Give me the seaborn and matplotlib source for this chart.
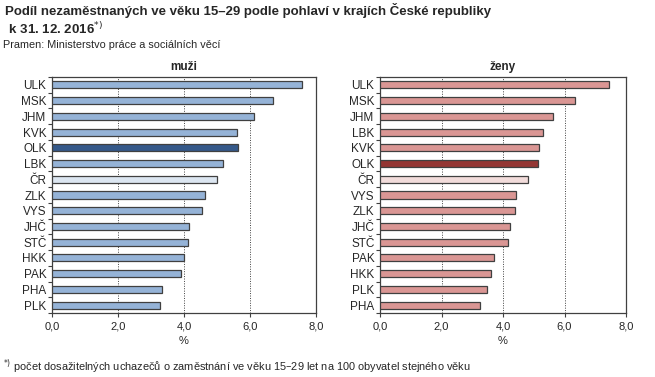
import seaborn as sns
import matplotlib.pyplot as plt
import pandas as pd

sns.set_theme(style='white')
plt.rcParams['font.family'] = ['Liberation Sans', 'DejaVu Sans']

# muzi
kraje_m = ["ULK", "MSK", "JHM", "KVK", "OLK", "LBK", "ČR", "ZLK", "VYS", "JHČ", "STČ", "HKK", "PAK", "PHA", "PLK"]
hodnoty_m = [7.58, 6.71, 6.13, 5.61, 5.63, 5.19, 5.01, 4.64, 4.55, 4.16, 4.11, 4.01, 3.91, 3.34, 3.28]
# zeny
kraje_z = ["ULK", "MSK", "JHM", "LBK", "KVK", "OLK", "ČR", "VYS", "ZLK", "JHČ", "STČ", "PAK", "HKK", "PLK", "PHA"]
hodnoty_z = [7.46, 6.35, 5.62, 5.31, 5.18, 5.14, 4.82, 4.43, 4.40, 4.23, 4.17, 3.71, 3.62, 3.49, 3.26]

def barvy(kraje, zakl, olk, cr):
    return [olk if k == "OLK" else cr if k == "ČR" else zakl for k in kraje]

fig = plt.figure(figsize=(6.55, 3.77), dpi=100)
ax1 = fig.add_axes([52/655, 1-313/377, 264/655, 236/377])
ax2 = fig.add_axes([380/655, 1-313/377, 246/655, 236/377])

panely = [
    (ax1, kraje_m, hodnoty_m, barvy(kraje_m, "#95b3d7", "#35598a", "#dce6f1"), "muži"),
    (ax2, kraje_z, hodnoty_z, barvy(kraje_z, "#da9694", "#943634", "#f2dcdb"), "ženy"),
]

for ax, kraje, hodnoty, pal, nazev in panely:
    df = pd.DataFrame({"kraj": kraje, "hodnota": hodnoty})
    sns.barplot(data=df, x="hodnota", y="kraj", hue="kraj", palette=pal, legend=False,
                saturation=1, width=0.45, edgecolor="#404040", linewidth=0.9, ax=ax, zorder=3)
    ax.set_xlim(0, 8)
    ax.set_ylim(len(kraje) - 0.5, -0.5)
    ax.set_xticks([0, 2, 4, 6, 8])
    ax.set_xticklabels(["0,0", "2,0", "4,0", "6,0", "8,0"], fontsize=8)
    ax.set_yticks(range(len(kraje)))
    ax.set_yticklabels(kraje, fontsize=8.5)
    ax.set_yticks([i + 0.5 for i in range(-1, len(kraje))], minor=True)
    ax.tick_params(axis='y', which='major', length=0, pad=4)
    ax.tick_params(axis='y', which='minor', length=3, width=0.8, color="#404040", direction='out', left=True)
    ax.tick_params(axis='x', length=3, width=0.8, color="#404040", direction='out', bottom=True, pad=3)
    ax.grid(axis='x', linestyle=(0, (1, 1.5)), color="#404040", linewidth=0.7, zorder=0)
    ax.grid(axis='y', visible=False)
    for s in ax.spines.values():
        s.set_color("#404040")
        s.set_linewidth(0.9)
    ax.set_xlabel("%", fontsize=8, labelpad=3)
    ax.set_ylabel("")
    ax.set_title(nazev, fontsize=8.5, fontweight='bold', pad=5)

fig.text(5/655, 1-10/377, "Podíl nezaměstnaných ve věku 15–29 podle pohlaví v krajích České republiky",
         fontsize=9.5, fontweight='bold', va='center', ha='left')
fig.text(5/655, 1-29/377, " k 31. 12. 2016$^{*)}$", fontsize=9.5, fontweight='bold', va='center', ha='left')
fig.text(3/655, 1-45/377, "Pramen: Ministerstvo práce a sociálních věcí", fontsize=7.8, va='center', ha='left')
fig.text(3/655, 1-367/377, "$^{*)}$ počet dosažitelných uchazečů o zaměstnání ve věku 15–29 let na 100 obyvatel stejného věku",
         fontsize=7.9, va='center', ha='left')

fig.savefig("out.png", dpi=100)
